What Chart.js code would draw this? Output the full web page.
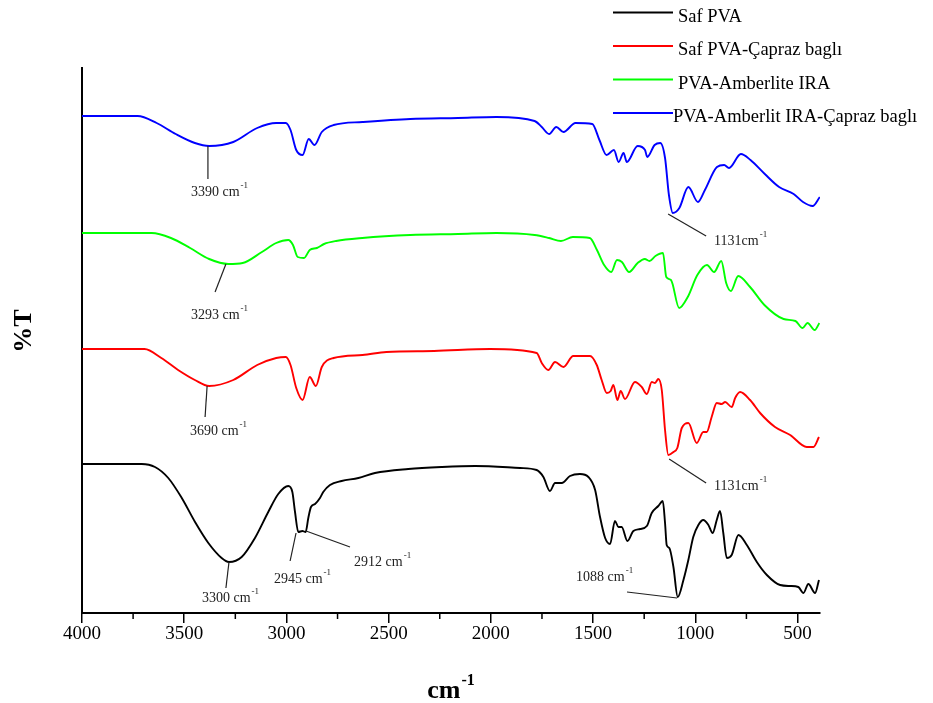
<!DOCTYPE html>
<html>
<head>
<meta charset="utf-8">
<script src="https://cdn.jsdelivr.net/npm/chart.js@4.4.1/dist/chart.umd.min.js"></script>
<style>
  body { margin: 0; background: #fff; }
</style>
</head>
<body>
<canvas id="ftirChart" width="933" height="703"></canvas>
<script>
// FTIR spectra, wavenumber (cm-1) and %T (offset, arbitrary units)
const seriesNames = ['Saf PVA', 'Saf PVA-Çapraz baglı', 'PVA-Amberlite IRA', 'PVA-Amberlit IRA-Çapraz baglı'];
const seriesColors = ['#000000', '#ff0000', '#00ff00', '#0000ff'];

const safPvaWave = [4000,3708,3643,3578,3512,3447,3382,3317,3281,3219,3154,3089,3040,2991,2971,2958,2942,2922,2906,2893,2880,2860,2836,2820,2787,2730,2648,2567,2404,2240,2077,1857,1776,1743,1711,1686,1653,1613,1564,1523,1490,1466,1441,1417,1393,1376,1360,1332,1303,1270,1237,1213,1181,1159,1148,1140,1127,1107,1086,1058,1034,1010,985,961,936,915,895,879,863,846,822,789,748,699,650,585,536,496,471,447,414,395];
const safPvaT = [149,149,146,135,115,91,70,55,51,56,75,101,119,127,121,101,81,82,81,95,106,109,115,121,128,132,135,140,144,146,147,145,143,136,122,130,130,137,139,136,123,96,75,69,92,86,86,72,82,84,87,100,107,112,90,68,65,46,16,33,53,76,88,93,88,80,93,102,80,55,58,78,68,51,38,28,27,26,20,29,20,33];

const safPvaCrossWave = [4000,3694,3612,3530,3448,3378,3260,3143,3050,3003,2980,2952,2921,2886,2856,2827,2769,2628,2511,2278,2004,1776,1751,1719,1686,1645,1597,1515,1482,1458,1433,1414,1401,1381,1365,1344,1295,1262,1237,1213,1197,1181,1164,1148,1132,1107,1088,1066,1034,993,961,944,920,895,871,854,822,805,781,732,683,610,536,455,422,395];
const safPvaCrossT = [264,264,255,243,233,227,233,248,255,256,248,225,213,236,227,246,255,258,261,262,264,260,250,243,251,246,257,257,248,233,220,222,228,213,222,214,231,226,219,231,230,234,223,183,158,161,165,185,190,170,181,181,196,210,209,211,206,215,221,213,200,186,178,166,166,176];

const pvaAmbWave = [4000,3659,3565,3471,3378,3284,3214,3120,3050,2991,2968,2945,2914,2886,2851,2816,2757,2629,2394,2161,1973,1786,1715,1657,1599,1516,1481,1446,1411,1383,1359,1324,1282,1247,1224,1195,1158,1142,1119,1079,1037,990,943,908,873,849,826,790,732,662,568,510,475,451,416,393];
const pvaAmbT = [380,380,375,365,354,349,350,361,370,373,368,356,355,363,365,369,372,375,378,379,380,378,375,372,376,375,363,348,341,353,351,341,350,354,352,357,360,336,333,305,316,338,348,341,352,330,322,337,326,308,294,292,285,290,283,290];

const pvaAmbCrossWave = [4000,3728,3635,3542,3448,3378,3260,3143,3050,3003,2980,2952,2921,2891,2863,2827,2769,2628,2394,2161,1973,1786,1751,1715,1680,1645,1586,1504,1469,1434,1398,1375,1351,1335,1282,1246,1235,1199,1171,1148,1129,1110,1078,1034,987,953,894,859,835,777,730,660,590,519,473,426,391];
const pvaAmbCrossT = [497,497,490,479,470,467,471,485,490,490,483,463,458,474,468,481,488,491,494,495,496,492,486,479,486,481,490,489,473,458,463,451,460,451,467,463,456,468,470,455,418,400,405,426,411,423,446,448,445,459,453,439,426,419,411,407,416];

const xTicks = [4000, 3500, 3000, 2500, 2000, 1500, 1000, 500];
const xMinorTicks = [3750, 3250, 2750, 2250, 1750, 1250, 750];

// peak labels: leader line (w1,t1)->(w2,t2), text left/middle at (tw,tt)
const peakNotes = [
  { label: '3390 cm', w1: 3384, t1: 467, w2: 3384, t2: 434, tw: 3467, tt: 421 },
  { label: '3293 cm', w1: 3296, t1: 349, w2: 3349, t2: 321, tw: 3467, tt: 298 },
  { label: '3690 cm', w1: 3388, t1: 227, w2: 3398, t2: 196, tw: 3472, tt: 182 },
  { label: '3300 cm', w1: 3281, t1: 51, w2: 3296, t2: 25, tw: 3413, tt: 15 },
  { label: '2945 cm', w1: 2953, t1: 80, w2: 2982, t2: 52, tw: 3061, tt: 34 },
  { label: '2912 cm', w1: 2904, t1: 82, w2: 2689, t2: 66, tw: 2669, tt: 51 },
  { label: '1088 cm', w1: 1089, t1: 15, w2: 1334, t2: 21, tw: 1583, tt: 36 },
  { label: '1131cm', w1: 1128, t1: 154, w2: 947, t2: 130, tw: 908, tt: 127 },
  { label: '1131cm', w1: 1133, t1: 399, w2: 947, t2: 377, tw: 908, tt: 372 }
];

const serif = '"Liberation Serif", "Times New Roman", serif';

function toPoints(waves, vals) {
  return waves.map((w, i) => ({ x: w, y: vals[i] }));
}

const allSeries = [
  toPoints(safPvaWave, safPvaT),
  toPoints(safPvaCrossWave, safPvaCrossT),
  toPoints(pvaAmbWave, pvaAmbT),
  toPoints(pvaAmbCrossWave, pvaAmbCrossT)
];

// draws minor ticks, peak labels, legend and axis titles
const overlayPlugin = {
  id: 'overlay',
  afterDraw(chart) {
    const ctx = chart.ctx;
    const x = chart.scales.x, y = chart.scales.y;
    const area = chart.chartArea;
    ctx.save();

    // minor ticks
    ctx.strokeStyle = '#000';
    ctx.lineWidth = 1.5;
    xMinorTicks.forEach(v => {
      const px = x.getPixelForValue(v);
      ctx.beginPath();
      ctx.moveTo(px, area.bottom);
      ctx.lineTo(px, area.bottom + 6);
      ctx.stroke();
    });

    // peak labels
    ctx.strokeStyle = '#222';
    ctx.fillStyle = '#222';
    ctx.lineWidth = 1.2;
    ctx.textAlign = 'left';
    ctx.textBaseline = 'middle';
    peakNotes.forEach(n => {
      ctx.beginPath();
      ctx.moveTo(x.getPixelForValue(n.w1), y.getPixelForValue(n.t1));
      ctx.lineTo(x.getPixelForValue(n.w2), y.getPixelForValue(n.t2));
      ctx.stroke();
      const tx = x.getPixelForValue(n.tw), ty = y.getPixelForValue(n.tt);
      ctx.font = '14px ' + serif;
      ctx.fillText(n.label, tx, ty);
      const wd = ctx.measureText(n.label).width;
      ctx.font = '9px ' + serif;
      ctx.fillText('-1', tx + wd + 1, ty - 6);
    });

    // legend
    ctx.fillStyle = '#000';
    ctx.textBaseline = 'alphabetic';
    chart.data.datasets.forEach((ds, i) => {
      const ly = 12.5 + i * 33.5;
      ctx.strokeStyle = ds.borderColor;
      ctx.lineWidth = 2;
      ctx.beginPath();
      ctx.moveTo(613, ly);
      ctx.lineTo(673, ly);
      ctx.stroke();
      ctx.font = '18.5px ' + serif;
      ctx.fillText(ds.label, i === 3 ? 673 : 678, ly + 9);
    });

    // x title: cm^-1
    ctx.font = 'bold 26px ' + serif;
    const cmW = ctx.measureText('cm').width;
    ctx.font = 'bold 16px ' + serif;
    const supW = ctx.measureText('-1').width;
    const startX = (area.left + area.right) / 2 - (cmW + supW + 1) / 2;
    ctx.font = 'bold 26px ' + serif;
    ctx.fillText('cm', startX, 698);
    ctx.font = 'bold 16px ' + serif;
    ctx.fillText('-1', startX + cmW + 1, 685);

    // y title: %T
    ctx.translate(24, 331);
    ctx.rotate(-Math.PI / 2);
    ctx.font = 'bold 26px ' + serif;
    ctx.textAlign = 'center';
    ctx.textBaseline = 'middle';
    ctx.fillText('%T', 0, 0);

    ctx.restore();
  }
};

document.addEventListener('DOMContentLoaded', function() {
  const ctx = document.getElementById('ftirChart').getContext('2d');

  new Chart(ctx, {
    type: 'line',
    data: {
      datasets: allSeries.map((pts, i) => ({
        label: seriesNames[i],
        data: pts,
        borderColor: seriesColors[i],
        backgroundColor: seriesColors[i],
        borderWidth: 1.9,
        pointRadius: 0,
        fill: false,
        cubicInterpolationMode: 'monotone'
      }))
    },
    options: {
      responsive: false,
      animation: false,
      layout: {
        padding: { top: 68, right: 113, left: 0, bottom: 0 }
      },
      scales: {
        x: {
          type: 'linear',
          reverse: true,
          min: 390,
          max: 4000,
          afterFit: function(scale) { scale.height = 90; },
          afterBuildTicks: function(scale) {
            scale.ticks = xTicks.map(v => ({ value: v }));
          },
          border: { display: true, color: '#000', width: 2 },
          grid: {
            display: true,
            drawOnChartArea: false,
            drawTicks: true,
            tickLength: 10,
            color: '#000',
            lineWidth: 1.5
          },
          ticks: {
            color: '#000',
            padding: 0,
            maxRotation: 0,
            autoSkip: false,
            font: { family: serif, size: 19 },
            callback: function(value) { return String(value); }
          }
        },
        y: {
          min: 0,
          max: 545,
          afterFit: function(scale) { scale.width = 82; },
          border: { display: true, color: '#000', width: 2 },
          grid: { display: false },
          ticks: { display: false }
        }
      },
      plugins: {
        legend: { display: false },
        tooltip: { enabled: false }
      }
    },
    plugins: [overlayPlugin]
  });
});
</script>
</body>
</html>
